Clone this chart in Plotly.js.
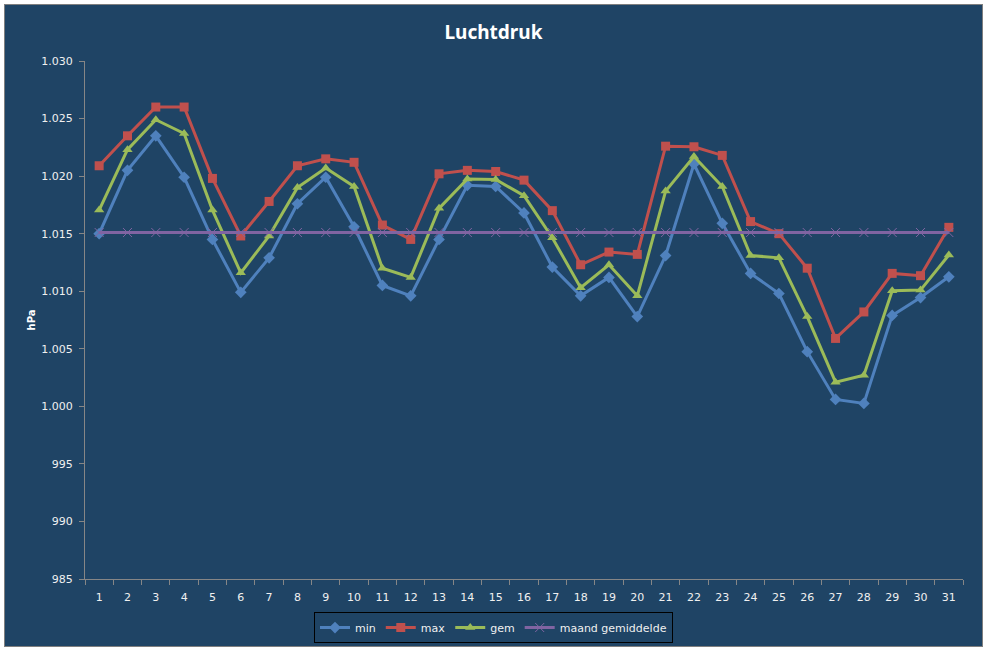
<!DOCTYPE html>
<html>
<head>
<meta charset="utf-8">
<script src="https://cdn.plot.ly/plotly-3.0.1.min.js"></script>
<style>
html,body{margin:0;padding:0;background:#ffffff;}
#chart{position:absolute;left:4px;top:4px;width:977px;height:641px;border:1px solid #7f7f7f;}
</style>
</head>
<body>
<div id="chart"></div>
<script>
const days = [1,2,3,4,5,6,7,8,9,10,11,12,13,14,15,16,17,18,19,20,21,22,23,24,25,26,27,28,29,30,31];
const minVals = [1015.0,1020.5,1023.5,1019.9,1014.5,1009.9,1012.9,1017.6,1019.9,1015.6,1010.5,1009.6,1014.5,1019.2,1019.1,1016.8,1012.1,1009.6,1011.2,1007.8,1013.1,1021.05,1015.9,1011.55,1009.8,1004.75,1000.6,1000.25,1007.9,1009.45,1011.25];
const maxVals = [1020.9,1023.5,1026.0,1026.0,1019.8,1014.8,1017.8,1020.9,1021.5,1021.2,1015.75,1014.5,1020.2,1020.5,1020.4,1019.65,1017.0,1012.3,1013.4,1013.2,1022.6,1022.55,1021.8,1016.05,1015.0,1012.0,1005.9,1008.2,1011.55,1011.35,1015.55];
const gemVals = [1017.05,1022.3,1024.9,1023.7,1017.05,1011.6,1014.8,1019.0,1020.7,1019.1,1012.0,1011.2,1017.2,1019.75,1019.7,1018.3,1014.65,1010.3,1012.3,1009.6,1018.7,1021.7,1019.1,1013.1,1012.9,1007.8,1002.1,1002.7,1010.05,1010.1,1013.15];
const maandVals = days.map(() => 1015.1);
const seriesNames = ["min","max","gem","maand gemiddelde"];
const yTicks = [985,990,995,1000,1005,1010,1015,1020,1025,1030];

const xs = days.map(String);
const colors = ["#4F81BD","#C0504D","#9BBB59","#8064A2"];
const traces = [
  {x: xs, y: minVals, name: seriesNames[0], mode: "lines+markers", line:{color:colors[0], width:3}, marker:{symbol:"diamond", size:9, color:colors[0]}},
  {x: xs, y: maxVals, name: seriesNames[1], mode: "lines+markers", line:{color:colors[1], width:3}, marker:{symbol:"square", size:9, color:colors[1]}},
  {x: xs, y: gemVals, name: seriesNames[2], mode: "lines+markers", line:{color:colors[2], width:3}, marker:{symbol:"triangle-up", size:9, color:colors[2]}},
  {x: xs, y: maandVals, name: seriesNames[3], mode: "lines+markers", line:{color:colors[3], width:3}, marker:{symbol:"x-thin-open", size:9, color:colors[3], line:{color:colors[3], width:1}}}
];
const tickFont = {family:"DejaVu Sans, Verdana, sans-serif", size:11, color:"#f0f0f0"};
const layout = {
  width: 977, height: 641,
  paper_bgcolor: "#1F4465", plot_bgcolor: "#1F4465",
  separators: ",.",
  margin: {l:80, r:19, t:56, b:67},
  title: {text:"<b>Luchtdruk</b>", font:{family:"Noto Sans, sans-serif", size:19, color:"#ffffff"}, x:0.5, xanchor:"center", xref:"container", y:0.958, yanchor:"middle"},
  xaxis: {type:"category", range:[-0.5, 30.5], autorange:false, tickson:"boundaries", showline:true, linecolor:"#868686", linewidth:1, ticks:"outside", ticklen:5, tickcolor:"#868686", ticklabelstandoff:8, showgrid:false, zeroline:false, tickfont:tickFont, fixedrange:true, automargin:false},
  yaxis: {range:[985,1030], autorange:false, tickvals:yTicks, tickformat:",d", showline:true, linecolor:"#868686", linewidth:1, ticks:"outside", ticklen:5, tickcolor:"#868686", ticklabelstandoff:4, showgrid:false, zeroline:false, tickfont:tickFont, automargin:false,
          title:{text:"<b>hPa</b>", font:{family:"DejaVu Sans, sans-serif", size:10, color:"#ffffff"}, standoff:3}},
  showlegend: true,
  legend: {orientation:"h", xref:"container", yref:"container", x:0.5, xanchor:"center", y:0.053, yanchor:"top", bordercolor:"#000000", borderwidth:1, bgcolor:"rgba(0,0,0,0)", font:{family:"DejaVu Sans, Verdana, sans-serif", size:11, color:"#f0f0f0"}, itemwidth:30, tracegroupgap:0}
};
Plotly.newPlot("chart", traces, layout, {displayModeBar:false, staticPlot:true});
</script>
</body>
</html>
